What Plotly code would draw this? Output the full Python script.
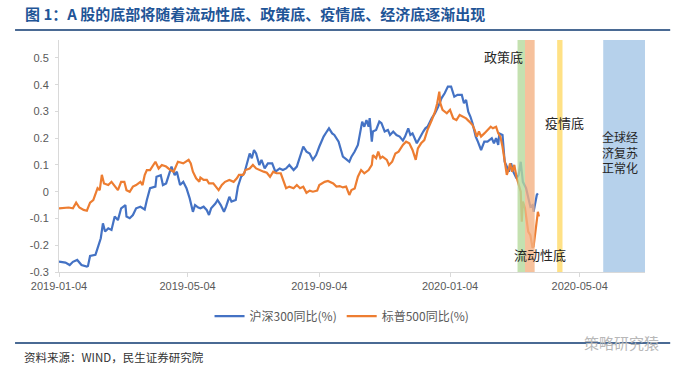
import pandas as pd
import plotly.graph_objects as go

BASE = pd.Timestamp("2019-01-04")

# 沪深300同比(%) : days since 2019-01-04 and values
hs300_day = [
    0, 6, 10, 13, 17, 21, 26, 27, 29, 34,
    35, 37, 39, 41, 43, 46, 49, 52, 55, 58,
    62, 63, 66, 69, 72, 76, 80, 82, 85, 90,
    91, 95, 97, 100, 104, 105, 108, 110, 113, 116,
    119, 122, 125, 127, 130, 132, 135, 138, 140, 142,
    146, 148, 151, 154, 156, 159, 161, 165, 167, 170,
    173, 176, 178, 180, 182, 184, 187, 189, 192, 195,
    199, 202, 206, 209, 212, 215, 219, 222, 225, 228,
    231, 234, 237, 240, 243, 247, 250, 252, 255, 257,
    261, 263, 265, 268, 271, 273, 276, 279, 281, 283,
    285, 287, 289, 290, 292, 293, 296, 299, 301, 304,
    307, 309, 312, 315, 318, 321, 323, 326, 328, 330,
    334, 337, 340, 342, 344, 348, 351, 354, 357, 360,
    363, 366, 369, 372, 376, 378, 380, 382, 384, 386,
    389, 391, 394, 397, 400, 404, 406, 408, 410, 411,
    414, 415, 416, 418, 420, 422, 424, 427, 429, 431,
    433, 436, 438, 440, 442, 443, 446, 447,
]
hs300_val = [
    -0.261, -0.265, -0.274, -0.262, -0.255, -0.274, -0.280, -0.278, -0.240, -0.236,
    -0.224, -0.199, -0.174, -0.118, -0.149, -0.137, -0.143, -0.093, -0.106, -0.062,
    -0.050, -0.093, -0.099, -0.087, -0.062, -0.056, -0.066, -0.031, 0.013, 0.019,
    0.056, 0.062, 0.025, 0.031, 0.081, 0.094, 0.062, 0.075, 0.025, 0.037,
    0.013, -0.025, -0.075, -0.050, -0.059, -0.062, -0.056, -0.069, -0.087, -0.062,
    -0.044, -0.031, -0.050, -0.075, -0.056, -0.019, -0.037, -0.031, 0.019, 0.056,
    0.069, 0.119, 0.143, 0.125, 0.156, 0.143, 0.100, 0.119, 0.087, 0.106,
    0.106, 0.075, 0.087, 0.081, 0.087, 0.100, 0.081, 0.094, 0.131, 0.169,
    0.150, 0.143, 0.119, 0.137, 0.169, 0.206, 0.225, 0.237, 0.218, 0.212,
    0.187, 0.156, 0.131, 0.122, 0.112, 0.131, 0.150, 0.175, 0.225, 0.262,
    0.243, 0.268, 0.243, 0.275, 0.187, 0.225, 0.231, 0.262, 0.256, 0.225,
    0.231, 0.212, 0.225, 0.212, 0.206, 0.191, 0.206, 0.237, 0.212, 0.218,
    0.181, 0.206, 0.225, 0.237, 0.243, 0.275, 0.293, 0.318, 0.349, 0.368,
    0.393, 0.393, 0.355, 0.362, 0.362, 0.331, 0.343, 0.299, 0.281, 0.256,
    0.206, 0.187, 0.156, 0.187, 0.187, 0.200, 0.181, 0.200, 0.175, 0.218,
    0.212, 0.162, 0.112, 0.094, 0.075, 0.106, 0.075, 0.050, 0.062, 0.112,
    0.037, 0.013, -0.025, -0.056, -0.050, -0.075, -0.012, -0.006,
]

# 标普500同比(%)
spx_day = [
    0, 9, 13, 16, 19, 23, 26, 29, 32, 34,
    36, 38, 40, 42, 46, 49, 52, 55, 58, 61,
    63, 66, 69, 72, 76, 78, 80, 82, 85, 90,
    93, 96, 100, 104, 107, 111, 116, 121, 123, 125,
    128, 131, 132, 135, 138, 140, 144, 147, 149, 152,
    155, 159, 163, 166, 168, 172, 174, 178, 181, 184,
    187, 191, 194, 197, 200, 203, 207, 210, 212, 215,
    219, 222, 225, 228, 231, 234, 237, 241, 243, 248,
    251, 256, 259, 262, 265, 268, 271, 273, 276, 279,
    282, 285, 289, 292, 293, 296, 298, 300, 302, 306,
    308, 311, 314, 317, 321, 324, 327, 330, 333, 335,
    338, 341, 344, 348, 351, 353, 355, 356, 358, 362,
    365, 368, 371, 374, 377, 380, 383, 386, 388, 390,
    392, 394, 397, 400, 403, 405, 408, 410, 412, 414,
    416, 418, 420, 421, 423, 425, 427, 429, 431, 432,
    433, 435, 436, 438, 440, 442, 443, 445, 446, 447,
    448,
]
spx_val = [
    -0.062, -0.059, -0.062, -0.041, -0.059, -0.068, -0.071, -0.041, -0.031, -0.012,
    0.013, 0.006, 0.063, 0.031, 0.025, 0.037, 0.019, 0.006, 0.037, 0.037,
    0.006, 0.000, 0.019, 0.025, 0.037, 0.025, 0.062, 0.081, 0.081, 0.112,
    0.087, 0.100, 0.094, 0.081, 0.075, 0.112, 0.106, 0.119, 0.106, 0.075,
    0.050, 0.037, 0.053, 0.044, 0.044, 0.031, 0.031, 0.013, 0.006, 0.025,
    0.037, 0.044, 0.037, 0.050, 0.063, 0.063, 0.081, 0.087, 0.100, 0.087,
    0.081, 0.075, 0.071, 0.056, 0.075, 0.069, 0.069, 0.037, 0.013, 0.019,
    0.013, 0.025, 0.013, 0.019, -0.004, 0.004, 0.000, 0.004, 0.025, 0.037,
    0.040, 0.031, 0.019, 0.021, 0.016, 0.019, -0.012, 0.006, 0.012, 0.056,
    0.081, 0.069, 0.081, 0.100, 0.137, 0.125, 0.150, 0.125, 0.131, 0.119,
    0.100, 0.112, 0.143, 0.150, 0.175, 0.187, 0.181, 0.156, 0.119, 0.162,
    0.181, 0.193, 0.231, 0.268, 0.299, 0.330, 0.374, 0.330, 0.306, 0.293,
    0.306, 0.274, 0.268, 0.287, 0.281, 0.274, 0.262, 0.249, 0.231, 0.206,
    0.225, 0.206, 0.218, 0.231, 0.243, 0.237, 0.243, 0.218, 0.206, 0.168,
    0.112, 0.063, 0.087, 0.106, 0.075, 0.100, 0.056, 0.025, 0.000, -0.112,
    -0.037, -0.062, -0.087, -0.149, -0.162, -0.210, -0.205, -0.149, -0.112, -0.075,
    -0.093,
]

# shaded periods (start, end, colour)
band_start = ["2020-03-07", "2020-03-14", "2020-04-13", "2020-05-26"]
band_end = ["2020-03-14", "2020-03-23", "2020-04-18", "2020-07-04"]
band_color = ["#b5d99c", "#f4b183", "#ffd966", "#a4c6e6"]

x_ticks = ["2019-01-04", "2019-05-04", "2019-09-04", "2020-01-04", "2020-05-04"]
y_ticks = [-0.3, -0.2, -0.1, 0, 0.1, 0.2, 0.3, 0.4, 0.5]
y_ticktext = ["-0.3", "-0.2", "-0.1", "0", "0.1", "0.2", "0.3", "0.4", "0.5"]

hs300_dates = BASE + pd.to_timedelta(hs300_day, unit="D")
spx_dates = BASE + pd.to_timedelta(spx_day, unit="D")

CJK = "Noto Sans CJK SC"

fig = go.Figure()
fig.add_trace(go.Scatter(x=hs300_dates, y=hs300_val, mode="lines", name="沪深300同比(%)",
                         line=dict(color="#4472c4", width=2.2)))
fig.add_trace(go.Scatter(x=spx_dates, y=spx_val, mode="lines", name="标普500同比(%)",
                         line=dict(color="#ed7d31", width=2.2)))

shapes = []
for s, e, c in zip(band_start, band_end, band_color):
    shapes.append(dict(type="rect", xref="x", yref="paper", x0=s, x1=e, y0=0, y1=1,
                       fillcolor=c, opacity=0.8, line=dict(width=0), layer="above"))
# title rule and footer rule
shapes.append(dict(type="line", xref="paper", yref="paper", x0=-0.075, x1=1.043,
                   y0=1.043, y1=1.043, line=dict(color="#4a6a94", width=2)))
shapes.append(dict(type="line", xref="paper", yref="paper", x0=-0.075, x1=1.043,
                   y0=-0.306, y1=-0.306, line=dict(color="#4a6a94", width=2)))

ann_font = dict(family=CJK, size=13, color="#262626")
annotations = [
    dict(x="2020-02-23", y=0.505, text="政策底", showarrow=False, font=ann_font),
    dict(x="2020-04-20", y=0.257, text="疫情底", showarrow=False, font=ann_font),
    dict(x="2020-06-11", y=0.149, text="全球经<br>济复苏<br>正常化", showarrow=False,
         font=dict(family=CJK, size=12, color="#262626")),
    dict(x="2020-03-28", y=-0.236, text="流动性底", showarrow=False, font=ann_font),
    dict(xref="paper", yref="paper", x=-0.063, y=-0.366, xanchor="left", yanchor="middle",
         text="资料来源：WIND，民生证券研究院", showarrow=False,
         font=dict(family=CJK, size=11.5, color="#333333")),
    dict(xref="paper", yref="paper", x=0.96, y=-0.306, xanchor="center", yanchor="middle",
         text="策略研究猿", showarrow=False,
         font=dict(family=CJK, size=15, color="#b8b8b8")),
]

fig.update_layout(
    width=685, height=368,
    margin=dict(l=59, r=40, t=40, b=96),
    paper_bgcolor="white", plot_bgcolor="white",
    title=dict(text="<b>图 1：A 股的底部将随着流动性底、政策底、疫情底、经济底逐渐出现</b>",
               xref="container", yref="container", x=25 / 685, xanchor="left",
               y=1 - 15 / 368, yanchor="middle",
               font=dict(family=CJK, size=15, color="#1f5597")),
    shapes=shapes,
    annotations=annotations,
    showlegend=True,
    legend=dict(orientation="h", x=0.483, xanchor="center", y=-0.19, yanchor="middle",
                font=dict(family=CJK, size=12, color="#595959"), itemwidth=30),
    xaxis=dict(type="date", range=["2019-01-04", "2020-07-04"], tickvals=x_ticks,
               ticktext=x_ticks, showgrid=False, zeroline=False, showline=True,
               linecolor="#d9d9d9", ticks="outside", ticklen=4, tickcolor="#d9d9d9",
               automargin=False,
               tickfont=dict(family="Liberation Sans", size=11, color="#595959")),
    yaxis=dict(range=[-0.3, 0.567], tickvals=y_ticks, ticktext=y_ticktext,
               showgrid=False, zeroline=False, showline=True, linecolor="#d9d9d9",
               ticks="outside", ticklen=3, tickcolor="#d9d9d9", ticklabelstandoff=4,
               automargin=False,
               tickfont=dict(family="Liberation Sans", size=11, color="#595959")),
)

fig.write_html("out.html", config={"displayModeBar": False},
               post_script="document.body.style.margin='0';")
